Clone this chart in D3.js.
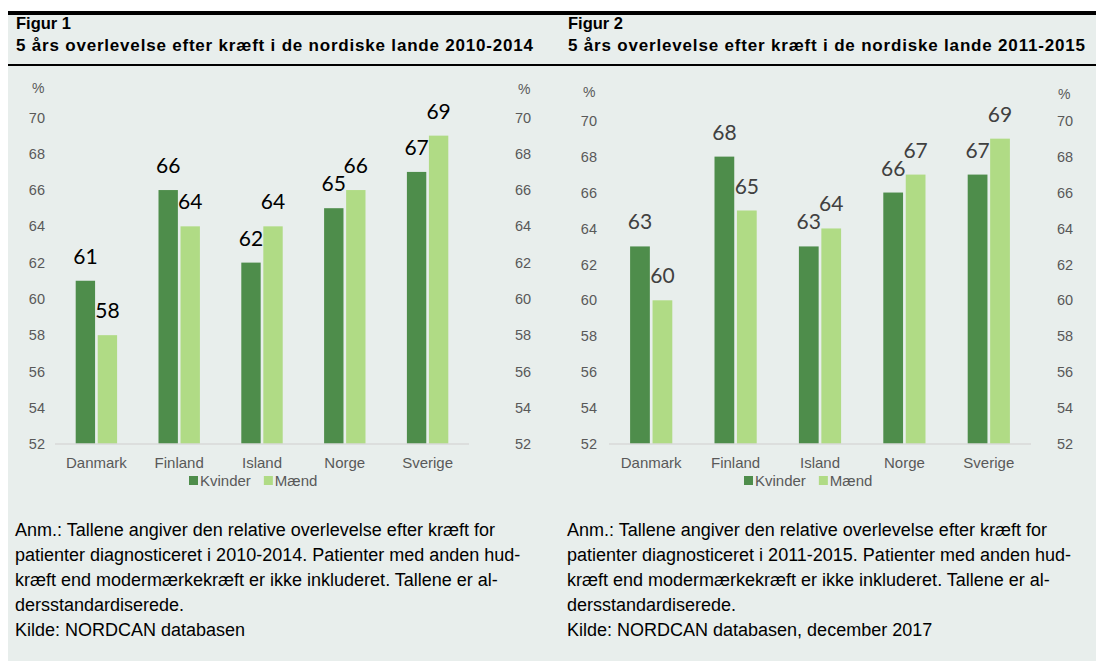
<!DOCTYPE html>
<html>
<head>
<meta charset="utf-8">
<script src="https://cdn.jsdelivr.net/npm/d3@7"></script>
<style>
  body { margin: 0; background: #ffffff; }
  svg { display: block; font-family: "Liberation Sans", Arial, sans-serif; }
</style>
</head>
<body>
<svg id="drawing_region"></svg>
<script>
const categories = ["Danmark", "Finland", "Island", "Norge", "Sverige"];
const series = ["Kvinder", "Mænd"];
const kvinder_2010 = [61, 66, 62, 65, 67];
const maend_2010 = [58, 64, 64, 66, 69];
const kvinder_2011 = [63, 68, 63, 66, 67];
const maend_2011 = [60, 65, 64, 67, 69];
const yticks = [52, 54, 56, 58, 60, 62, 64, 66, 68, 70];

const colors = { Kvinder: '#4e8d4b', 'Mænd': '#b0db85' };

const svg = d3.select('#drawing_region')
    .attr('width', 1096)
    .attr('height', 661);

// panel background and rules
svg.append('rect').attr('x', 8).attr('y', 13).attr('width', 1088).attr('height', 648).attr('fill', '#e8eeec');
svg.append('rect').attr('x', 8).attr('y', 11).attr('width', 1088).attr('height', 4).attr('fill', '#000');
svg.append('rect').attr('x', 8).attr('y', 64).attr('width', 1088).attr('height', 2).attr('fill', '#000');

class BarChart {
    constructor( config, data ) {
        this.config = config;
        this.data = data;
        this.init();
    }
    init() {
        let self = this;
        const c = self.config;
        self.g = svg.append('g');

        self.g.append('text')
            .attr('x', c.textx).attr('y', 29)
            .style('font-size', '16.5px').style('font-weight', 'bold')
            .text( c.figur );
        self.g.append('text')
            .attr('x', c.textx).attr('y', 51)
            .attr('textLength', 517).attr('lengthAdjust', 'spacing')
            .style('font-size', '17px').style('font-weight', 'bold')
            .text( c.title );

        self.xscale = d3.scaleBand()
            .domain( categories )
            .range( [c.left, c.right] )
            .paddingInner(0.5)
            .paddingOuter(0.25);
        self.subscale = d3.scaleBand()
            .domain( series )
            .range( [0, self.xscale.bandwidth()] )
            .paddingInner(0.12);
        self.yscale = d3.scaleLinear()
            .domain( [52, 70] )
            .range( [444, c.top] );

        self.yaxis_left = d3.axisLeft( self.yscale ).tickValues( yticks ).tickSize(0).tickPadding(0);
        self.yaxis_right = d3.axisRight( self.yscale ).tickValues( yticks ).tickSize(0).tickPadding(0);
    }
    render() {
        let self = this;
        const c = self.config;

        const la = self.g.append('g')
            .attr('transform', `translate(${c.leftlab}, 0)`)
            .call( self.yaxis_left );
        const ra = self.g.append('g')
            .attr('transform', `translate(${c.rightlab}, 0)`)
            .call( self.yaxis_right );
        [la, ra].forEach( a => {
            a.select('.domain').remove();
            a.selectAll('text')
                .attr('fill', '#595959')
                .style('font-size', '14.5px')
                .style('font-family', '"Liberation Sans", Arial, sans-serif');
        });

        self.g.append('text')
            .attr('x', c.pctleft[0]).attr('y', c.pctleft[1])
            .attr('fill', '#595959').style('font-size', '14px')
            .text('%');
        self.g.append('text')
            .attr('x', c.pctright[0]).attr('y', c.pctright[1])
            .attr('fill', '#595959').style('font-size', '14px')
            .text('%');

        const groups = self.g.selectAll('.grp')
            .data( self.data )
            .enter()
            .append('g')
            .attr('transform', d => `translate(${self.xscale(d.label)}, 0)`);

        groups.selectAll('rect')
            .data( d => series.map( s => ({ key: s, value: d[s] }) ) )
            .enter()
            .append('rect')
            .attr('x', d => self.subscale(d.key))
            .attr('y', d => self.yscale(d.value))
            .attr('width', self.subscale.bandwidth())
            .attr('height', d => self.yscale(52) - self.yscale(d.value))
            .attr('fill', d => colors[d.key]);

        groups.selectAll('.vlab')
            .data( d => series.map( s => ({ key: s, value: d[s] }) ) )
            .enter()
            .append('text')
            .attr('x', d => self.subscale(d.key) + self.subscale.bandwidth() / 2)
            .attr('y', d => self.yscale(d.value) - 17)
            .attr('text-anchor', 'middle')
            .attr('fill', c.labelcolor)
            .style('font-family', 'Lato, "Open Sans", sans-serif')
            .style('font-size', '21px')
            .text( d => d.value );

        // baseline
        self.g.append('line')
            .attr('x1', c.left).attr('x2', c.right)
            .attr('y1', self.yscale(52)).attr('y2', self.yscale(52))
            .attr('stroke', '#d9d9d9').attr('stroke-width', 1.5);

        // category labels
        self.g.selectAll('.cat')
            .data( categories )
            .enter()
            .append('text')
            .attr('x', d => self.xscale(d) + self.xscale.bandwidth() / 2)
            .attr('y', 468)
            .attr('text-anchor', 'middle')
            .attr('fill', '#595959')
            .style('font-size', '15px')
            .text( d => d );

        // legend
        const lg = self.g.append('g').attr('transform', `translate(${c.legendx}, 0)`);
        let lx = 0;
        series.forEach( s => {
            lg.append('rect').attr('x', lx).attr('y', 476).attr('width', 9).attr('height', 9).attr('fill', colors[s]);
            const t = lg.append('text').attr('x', lx + 11).attr('y', 486)
                .attr('fill', '#595959').style('font-size', '15px').text(s);
            lx += 11 + t.node().getComputedTextLength() + 13;
        });

        // notes
        const notes = self.g.append('text')
            .attr('x', c.textx).attr('y', 536)
            .attr('fill', '#000').style('font-size', '18px');
        c.notes.forEach( (line, i) => {
            notes.append('tspan').attr('x', c.textx - 1).attr('y', 536 + i * 25).text(line);
        });
    }
}

const make_data = ( k, m ) => categories.map( (label, i) => ({ label: label, Kvinder: k[i], 'Mænd': m[i] }) );

const chart1 = new BarChart({
    figur: 'Figur 1',
    title: '5 års overlevelse efter kræft i de nordiske lande 2010-2014',
    textx: 16,
    left: 55, right: 469, top: 117.5,
    leftlab: 45, rightlab: 515,
    pctleft: [32, 93], pctright: [518, 94],
    legendx: 189,
    labelcolor: '#000000',
    notes: [
        'Anm.: Tallene angiver den relative overlevelse efter kræft for',
        'patienter diagnosticeret i 2010-2014. Patienter med anden hud-',
        'kræft end modermærkekræft er ikke inkluderet. Tallene er al-',
        'dersstandardiserede.',
        'Kilde: NORDCAN databasen'
    ]
}, make_data( kvinder_2010, maend_2010 ));
chart1.render();

const chart2 = new BarChart({
    figur: 'Figur 2',
    title: '5 års overlevelse efter kræft i de nordiske lande 2011-2015',
    textx: 568,
    left: 609, right: 1031, top: 120.7,
    leftlab: 597, rightlab: 1057,
    pctleft: [583, 97], pctright: [1058, 99],
    legendx: 744,
    labelcolor: '#404040',
    notes: [
        'Anm.: Tallene angiver den relative overlevelse efter kræft for',
        'patienter diagnosticeret i 2011-2015. Patienter med anden hud-',
        'kræft end modermærkekræft er ikke inkluderet. Tallene er al-',
        'dersstandardiserede.',
        'Kilde: NORDCAN databasen, december 2017'
    ]
}, make_data( kvinder_2011, maend_2011 ));
chart2.render();
</script>
</body>
</html>
